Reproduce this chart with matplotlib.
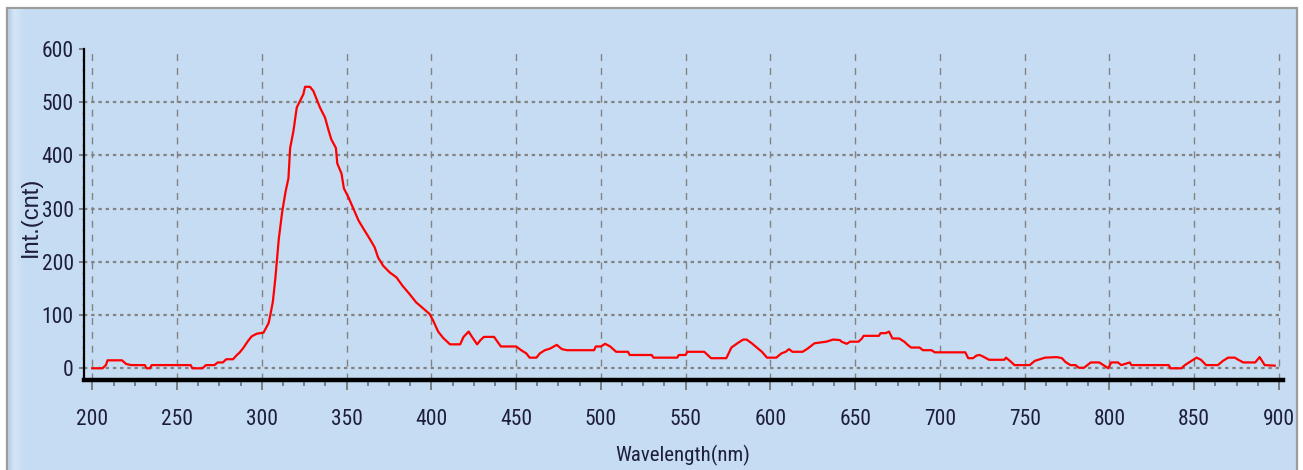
import numpy as np
import matplotlib
matplotlib.use("Agg")
import matplotlib.pyplot as plt
from matplotlib.patches import Rectangle
from matplotlib.ticker import MultipleLocator

# Emission spectrum: wavelength (nm) and intensity (counts)
wavelength_nm = [
    200, 206, 208, 209, 217.5, 220, 223, 231, 232, 234, 235, 258, 259, 265,
    267, 272, 274, 277, 279, 283, 285, 287, 289, 292, 294, 297, 301, 302,
    304, 305, 306.5, 308, 310, 312, 314, 315.7, 316.7, 318.6, 320.6, 322.5,
    324.5, 325.5, 328.4, 330.4, 332.4, 334.3, 337.3, 339.2, 341, 343.7,
    344.5, 347, 348.4, 351, 354, 357, 360, 363.7, 366.6, 368.6, 371.5,
    375.5, 379.4, 383, 387, 391, 395, 399, 401, 404, 407, 411, 417, 419,
    422, 424, 427, 429, 431, 437, 439, 441, 450, 453, 456, 458, 462, 464,
    467, 470, 474, 477, 480, 496, 497, 500, 502.5, 505.5, 509, 516, 517,
    530, 531, 545, 546, 550, 551, 561, 563, 565, 574, 577, 581, 584, 586,
    589, 592, 595, 598, 603.5, 606.5, 609, 611, 613, 619, 622, 626, 633,
    637, 641, 642, 645, 647, 652, 654, 655, 664, 665, 668, 670, 672, 676,
    679, 681, 683, 688, 690, 695, 697, 715, 716.7, 719.6, 721.6, 723.5,
    725.5, 729, 738, 739, 742, 744, 753, 756, 759, 762, 769, 772, 774, 777,
    780, 782, 785, 787, 789, 794, 796.5, 799.4, 801, 805, 807, 812, 813,
    835, 836, 842.5, 844.5, 847.5, 851.4, 854, 857, 864, 867, 870, 874,
    876, 879, 886, 888.6, 891.6, 897.5,
]
intensity_cnt = [
    0, 0, 6, 15, 15, 8, 6, 6, 0, 0, 6, 6, 0, 0,
    6, 6, 11, 11, 17, 17, 24, 30, 38, 52, 60, 65, 67, 73,
    85, 100, 125, 170, 243, 294, 332, 357, 414, 445, 490, 502,
    515, 529, 529, 521, 505, 490, 471, 449, 430, 414,
    385, 366, 338, 322, 300, 278, 262, 243, 227, 208, 193,
    180, 171, 155, 140, 124, 113, 102, 90, 69, 57, 45, 45, 59,
    69, 59, 45, 53, 59, 59, 50, 41, 41, 34, 28, 20, 20, 28,
    34, 37, 44, 36, 34, 34, 41, 41, 46, 41, 31, 31, 25,
    25, 20, 20, 25, 25, 31, 31, 25, 19, 19, 39, 48, 54, 54,
    47, 39, 31, 20, 20, 28, 31, 36, 31, 31, 37, 47, 50,
    54, 53, 50, 46, 50, 50, 56, 61, 61, 66, 66, 69, 56, 56,
    50, 44, 39, 39, 34, 34, 30, 30, 19, 19, 24, 25,
    22, 16, 16, 20, 12, 6, 6, 14, 17, 20, 21, 19, 12, 6,
    6, 1, 1, 6, 11, 11, 6, 0, 11, 11, 6, 11, 6,
    6, 0, 0, 6, 12, 20, 16, 6, 6, 14, 20, 20,
    16, 11, 11, 21, 6, 5,
]

x_ticks = list(range(200, 901, 50))
y_ticks = list(range(0, 601, 100))
y_grid = y_ticks[:-1]

W, H, DPI = 1303, 470, 100
plt.rcParams['lines.scale_dashes'] = False
plt.rcParams['font.family'] = ['Roboto Condensed', 'DejaVu Sans Condensed',
                               'Liberation Sans', 'DejaVu Sans']

fig = plt.figure(figsize=(W / DPI, H / DPI), dpi=DPI, facecolor='white')


def fx(px):
    return px / W


def fy(py):
    return 1 - py / H


panel_bg = '#C6DCF2'
text_col = '#1E1E3C'
grid_col = '#828282'

# framed light-blue panel
fig.add_artist(Rectangle((fx(7), -0.02), fx(1297) - fx(7), fy(8) + 0.02,
                         transform=fig.transFigure, facecolor=panel_bg,
                         edgecolor='#9C9C9C', linewidth=1.6, zorder=0))

# soft shading strip along the panel's left edge
strip = fig.add_axes([fx(8), 0, fx(24) - fx(8), fy(9)], zorder=0.5)
strip.axis('off')
c0 = np.array([0xB8, 0xCC, 0xE2]) / 255
c1 = np.array([0xD4, 0xE5, 0xF7]) / 255
c2 = np.array([0xC6, 0xDC, 0xF2]) / 255
t = np.linspace(0, 1, 32)[:, None]
grad = np.where(t < 0.4, c0 + (c1 - c0) * (t / 0.4), c1 + (c2 - c1) * ((t - 0.4) / 0.6))
strip.imshow(grad[None, :, :], aspect='auto', extent=(0, 1, 0, 1))
strip.set_xlim(0, 1)
strip.set_ylim(0, 1)

ax = fig.add_axes([fx(83.5), fy(380), fx(1283) - fx(83.5), fy(49) - fy(380)], zorder=1)
ax.patch.set_alpha(0)
xlim = (194.8, 902.4)
ylim = (-22, 600)
ax.set_xlim(*xlim)
ax.set_ylim(*ylim)

# grid: dashed verticals, dotted horizontals
ax.vlines(x_ticks, ylim[0], ylim[1], colors=grid_col, linestyles=(0, (5, 5)),
          linewidth=1.0, zorder=1)
ax.hlines(y_grid, xlim[0], x_ticks[-1], colors=grid_col, linestyles=(0, (2.4, 2.8)),
          linewidth=1.6, zorder=1)

ax.plot(wavelength_nm, intensity_cnt, color='#FF0000', linewidth=1.6, zorder=3)

for side in ('top', 'right'):
    ax.spines[side].set_visible(False)
ax.spines['left'].set_linewidth(1.6)
ax.spines['left'].set_color('black')
ax.spines['bottom'].set_linewidth(3.2)
ax.spines['bottom'].set_color('black')

ax.set_xticks(x_ticks)
ax.xaxis.set_minor_locator(MultipleLocator(12.5))
ax.set_yticks(y_ticks)
ax.yaxis.set_minor_locator(MultipleLocator(20))

ax.tick_params(axis='x', which='major', length=7, width=1.2, color='#6E6E6E',
               pad=14, labelsize=15.5, labelcolor=text_col)
ax.tick_params(axis='x', which='minor', length=4, width=1.2, color='#6E6E6E')
ax.tick_params(axis='y', which='major', length=3.6, width=1.2, color='#6E6E6E',
               pad=3.5, labelsize=15.5, labelcolor=text_col)
ax.tick_params(axis='y', which='minor', length=1.5, width=1.0, color='#8A8A8A')

fig.text(fx(683), fy(455), 'Wavelength(nm)', ha='center', va='center',
         fontsize=15, color=text_col)
fig.text(fx(31), fy(217), 'Int.(cnt)', ha='center', va='center', rotation=90,
         fontsize=17, color=text_col, family=['Liberation Sans', 'DejaVu Sans'])

fig.savefig('out.png', dpi=DPI, facecolor='white')
